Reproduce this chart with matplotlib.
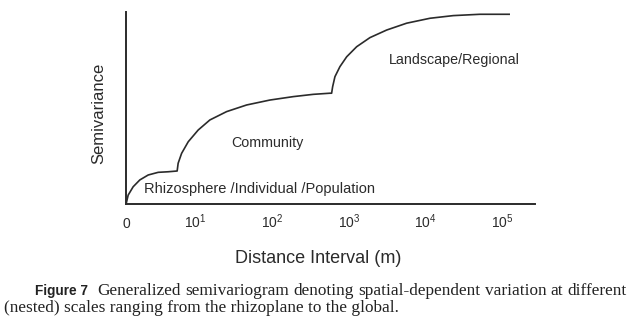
import matplotlib
matplotlib.use("Agg")
import matplotlib.pyplot as plt

plt.rcParams.update({'font.family': 'Liberation Sans',
                     'mathtext.fontset': 'custom',
                     'mathtext.rm': 'Liberation Sans',
                     'mathtext.it': 'Liberation Sans'})

# distance in decades (log10 m), semivariance in relative units (0-100)
rhizo_x = [0.10, 0.127, 0.192, 0.279, 0.388, 0.518, 0.648, 0.765]
rhizo_y = [0.0, 4.7, 9.1, 12.7, 15.3, 16.7, 17.0, 17.4]

comm_x = [0.765, 0.778, 0.823, 0.909, 1.039, 1.191, 1.409, 1.670, 1.973, 2.277, 2.537, 2.755]
comm_y = [17.4, 21.5, 26.7, 32.8, 39.0, 44.3, 48.7, 52.2, 54.8, 56.6, 57.8, 58.4]

land_x = [2.755, 2.777, 2.790, 2.820, 2.885, 2.973, 3.103, 3.276, 3.494, 3.754, 4.058, 4.361, 4.709, 5.100]
land_y = [58.4, 58.4, 61.8, 67.1, 72.4, 77.6, 82.9, 87.7, 91.7, 95.3, 97.9, 99.3, 100.0, 100.0]

tick_pos = [0.11, 1, 2, 3, 4, 5]
tick_labels = ['0', '$10^1$', '$10^2$', '$10^3$', '$10^4$', '$10^5$']

caption1 = 'Generalized semivariogram denoting spatial-dependent variation at different'
caption2 = '(nested) scales ranging from the rhizoplane to the global.'

ink = '#2b2b2b'

fig = plt.figure(figsize=(6.33, 3.28), dpi=100)
ax = fig.add_axes([0.1986, 0.378, 0.6466, 0.5854])

ax.plot(rhizo_x + comm_x[1:] + land_x[1:], rhizo_y + comm_y[1:] + land_y[1:],
        color=ink, lw=1.2, solid_capstyle='butt')

ax.set_xlim(0.095, 5.426)
ax.set_ylim(0, 101.2)
for s in ['top', 'right']:
	ax.spines[s].set_visible(False)
for s in ['left', 'bottom']:
	ax.spines[s].set_linewidth(1.4)
	ax.spines[s].set_color(ink)

ax.set_xticks(tick_pos)
ax.set_xticklabels(tick_labels, fontsize=10, color=ink)
for lbl in ax.get_xticklabels():
	lbl.set_verticalalignment('baseline')
ax.set_yticks([])
ax.tick_params(axis='x', length=0, pad=17)

ax.set_ylabel('Semivariance', fontsize=12, color=ink, labelpad=14)
ax.yaxis.label.set_y(0.474)
ax.set_xlabel('Distance Interval (m)', fontsize=13, color=ink, labelpad=14)
ax.xaxis.label.set_x(0.47)

ax.text(1.934, (204 - 143) / 1.897, 'Community', fontsize=10.3, color=ink, ha='center', va='center')
ax.text(0.331, (204 - 189) / 1.897, 'Rhizosphere /Individual /Population', fontsize=10.5, color=ink,
        ha='left', va='center')
ax.text(4.37, (204 - 60) / 1.897, 'Landscape/Regional', fontsize=10.3, color=ink, ha='center', va='center')

# caption: first line justified between x=97 and x=627 px
fig.text(35 / 633, 1 - 291 / 328, 'Figure 7', fontsize=9.8, fontweight='bold', color='#222222',
         ha='left', va='center')
fig.canvas.draw()
renderer = fig.canvas.get_renderer()
words = caption1.split()
texts = [fig.text(0, 1 - 291 / 328, w, fontsize=12.4, family='Liberation Serif', color='#222222',
                  ha='left', va='center') for w in words]
widths = [t.get_window_extent(renderer).width for t in texts]
gap = (627 - 97 - sum(widths)) / (len(words) - 1)
x = 97.0
for t, w in zip(texts, widths):
	t.set_x(x / 633)
	x += w + gap
fig.text(4 / 633, 1 - 308 / 328, caption2,
         fontsize=12.4, family='Liberation Serif', color='#222222', ha='left', va='center')

plt.savefig('out.png', dpi=100)
